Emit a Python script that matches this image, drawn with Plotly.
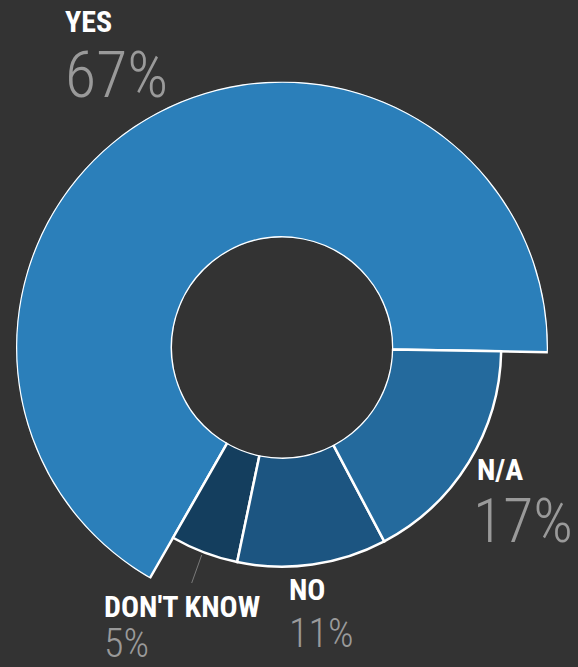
import plotly.graph_objects as go

# Survey answers, drawn counterclockwise from the 3 o'clock position
categories = ["YES", "DON'T KNOW", "NO", "N/A"]
percentages = [67, 5, 11, 17]
ring_depth = [1.0, 0.7, 0.7, 0.7]  # relative outer reach of each wedge
colors = ["#2b7fba", "#143e5e", "#1c5581", "#246a9d"]

W, H = 578, 667
BG = "#333333"
NAME_FONT = "Roboto Condensed, Open Sans Condensed, DejaVu Sans Condensed, sans-serif"
PCT_FONT = "Roboto Condensed, DejaVu Sans Condensed, sans-serif"


def px(x):
    return x / W


def py(y):
    return 1 - y / H


# wedge centres / widths in degrees
widths = [p * 3.6 for p in percentages]
centers = []
acc = 0.0
for w in widths:
    centers.append(acc + w / 2)
    acc += w

fig = go.Figure(
    go.Barpolar(
        r=ring_depth,
        theta=centers,
        width=widths,
        marker=dict(color=colors, line=dict(color="white", width=2.5)),
        hoverinfo="skip",
    )
)

fig.update_layout(
    width=W,
    height=H,
    margin=dict(l=0, r=0, t=0, b=0),
    paper_bgcolor=BG,
    plot_bgcolor=BG,
    showlegend=False,
    polar=dict(
        domain=dict(x=[px(16), px(548)], y=[py(613.5), py(81.5)]),
        hole=110 / 266,
        bgcolor="rgba(0,0,0,0)",
        radialaxis=dict(visible=False, range=[0, 1]),
        angularaxis=dict(visible=False, direction="counterclockwise", rotation=-1),
    ),
)

# name / share placement: x, name centre y, share centre y, name size, share size, share anchor
label_layout = {
    "YES": (64, 21.7, 75, 30, 64, "left"),
    "N/A": (476, 469, 520, 30, 62, "right"),
    "DON'T KNOW": (103, 606, 643, 30, 40, "left"),
    "NO": (288, 589, 633, 30, 40, "left"),
}
for name, pct in zip(categories, percentages):
    x0, yn, yv, sn, sv, anchor = label_layout[name]
    fig.add_annotation(
        x=px(x0), y=py(yn), xref="paper", yref="paper",
        xanchor="left", yanchor="middle", showarrow=False, borderpad=0,
        text=f"<b>{name}</b>",
        font=dict(family=NAME_FONT, size=sn, color="white"),
    )
    fig.add_annotation(
        x=px(x0) if anchor == "left" else px(574), y=py(yv), xref="paper", yref="paper",
        xanchor=anchor, yanchor="middle", showarrow=False, borderpad=0,
        text=f"{pct}%",
        font=dict(family=PCT_FONT, size=sv, color="#9a9a9a", weight=300),
    )

# leader from the small DON'T KNOW wedge down to its label
fig.add_shape(
    type="line", xref="paper", yref="paper",
    x0=px(201.7), y0=py(555), x1=px(191.7), y1=py(583),
    line=dict(color="#7a7a7a", width=1),
)

fig.write_html("out.html")
